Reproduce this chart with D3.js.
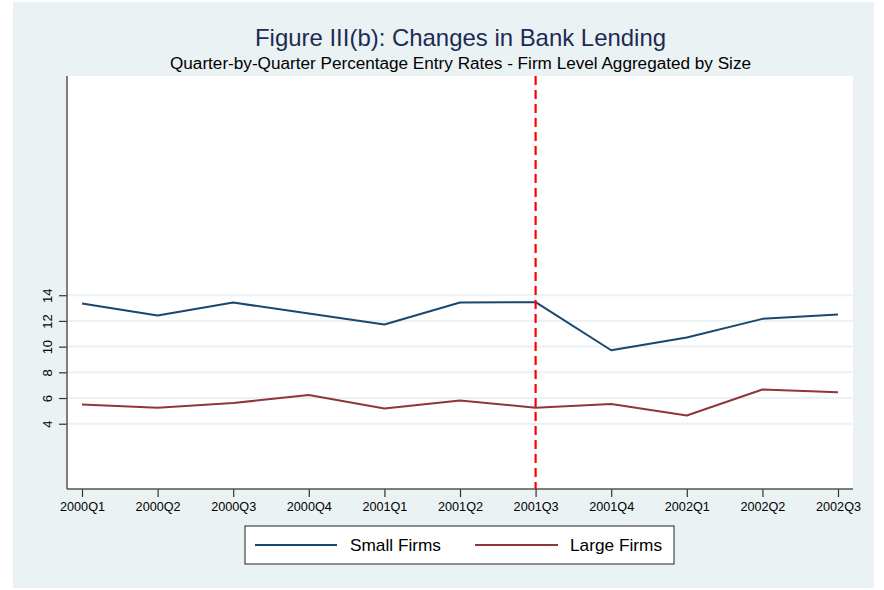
<!DOCTYPE html>
<html><head><meta charset="utf-8">
<script src="https://cdn.jsdelivr.net/npm/d3@7"></script>
<style>body{margin:0;background:#fff}svg{display:block}text{font-family:"Liberation Sans",Arial,sans-serif}</style>
</head><body>
<script>
const quarters = ["2000Q1","2000Q2","2000Q3","2000Q4","2001Q1","2001Q2","2001Q3","2001Q4","2002Q1","2002Q2","2002Q3"];
const smallFirms = [13.35,12.42,13.43,12.57,11.72,13.43,13.46,9.72,10.71,12.16,12.5];
const largeFirms = [5.5,5.24,5.61,6.23,5.19,5.81,5.24,5.53,4.64,6.66,6.45];
const yTicks = [4,6,8,10,12,14];
const eventQuarter = "2001Q3";
const seriesNames = ["Small Firms","Large Firms"];
const colors = ["#1a476f","#90353b"];

const W=884,H=590;
const svg=d3.select("body").append("svg").attr("width",W).attr("height",H);
svg.append("rect").attr("x",13).attr("y",2).attr("width",861).attr("height",586).attr("fill","#eaf2f3");
const L=67,R=853,T=76,B=489;
svg.append("rect").attr("x",L).attr("y",T).attr("width",R-L).attr("height",B-T).attr("fill","#fff");

const x=d3.scalePoint().domain(quarters).range([82,838]);
const y=d3.scaleLinear().domain([-1.08,31.06]).range([B,T]);

// gridlines
svg.append("g").selectAll("line").data(yTicks).join("line")
  .attr("x1",L).attr("x2",R).attr("y1",d=>y(d)).attr("y2",d=>y(d))
  .attr("stroke","#eaf2f3").attr("stroke-width",2);

// axes
const yAxis=d3.axisLeft(y).tickValues(yTicks).tickSize(8).tickSizeOuter(0).tickFormat(d3.format("d"));
const gy=svg.append("g").attr("transform",`translate(${L},0)`).call(yAxis);
gy.select(".domain").remove();
gy.selectAll(".tick line").attr("stroke","#333").attr("stroke-width",1.2);
gy.selectAll(".tick text").attr("font-size",13).attr("fill","#000")
  .attr("x",0).attr("dy",0).attr("text-anchor","middle")
  .attr("transform","translate(-11,0) rotate(-90)").attr("y",-4);
svg.append("line").attr("x1",L).attr("x2",L).attr("y1",T).attr("y2",B).attr("stroke","#555").attr("stroke-width",1.5);

const xAxis=d3.axisBottom(x).tickSize(8).tickSizeOuter(0);
const gx=svg.append("g").attr("transform",`translate(0,${B})`).call(xAxis);
gx.select(".domain").remove();
gx.selectAll(".tick line").attr("stroke","#333").attr("stroke-width",1.2);
gx.selectAll(".tick text").attr("font-size",13).attr("fill","#000").attr("y",13).attr("dy","0.71em")
  .attr("textLength",45).attr("lengthAdjust","spacingAndGlyphs");
svg.append("line").attr("x1",L).attr("x2",R).attr("y1",B).attr("y2",B).attr("stroke","#555").attr("stroke-width",1.5);

// lines
const line=d3.line().x((d,i)=>x(quarters[i])).y(d=>y(d));
[smallFirms,largeFirms].forEach((s,k)=>{
  svg.append("path").datum(s).attr("d",line).attr("fill","none")
    .attr("stroke",colors[k]).attr("stroke-width",2).attr("stroke-linejoin","round");
});

// event line
svg.append("line").attr("x1",x(eventQuarter)).attr("x2",x(eventQuarter)).attr("y1",T).attr("y2",B)
  .attr("stroke","#ff0000").attr("stroke-width",2.2).attr("stroke-dasharray","9,5");

// titles
svg.append("text").attr("x",460.5).attr("y",46).attr("text-anchor","middle")
  .attr("font-size",24).attr("fill","#1e2a55")
  .attr("textLength",411).attr("lengthAdjust","spacingAndGlyphs")
  .text("Figure III(b): Changes in Bank Lending");
svg.append("text").attr("x",460.5).attr("y",69).attr("text-anchor","middle")
  .attr("font-size",16).attr("fill","#000")
  .attr("textLength",581).attr("lengthAdjust","spacingAndGlyphs")
  .text("Quarter-by-Quarter Percentage Entry Rates - Firm Level Aggregated by Size");

// legend
const lg=svg.append("g");
lg.append("rect").attr("x",245).attr("y",526).attr("width",429).attr("height",38)
  .attr("fill","#fff").attr("stroke","#222").attr("stroke-width",1);
const lx=[[255,337,350,91],[475,558,570,92]];
seriesNames.forEach((n,k)=>{
  lg.append("line").attr("x1",lx[k][0]).attr("x2",lx[k][1]).attr("y1",545).attr("y2",545)
    .attr("stroke",colors[k]).attr("stroke-width",2);
  lg.append("text").attr("x",lx[k][2]).attr("y",551).attr("font-size",17).attr("fill","#000")
    .attr("textLength",lx[k][3]).attr("lengthAdjust","spacingAndGlyphs").text(n);
});
</script>
</body></html>
